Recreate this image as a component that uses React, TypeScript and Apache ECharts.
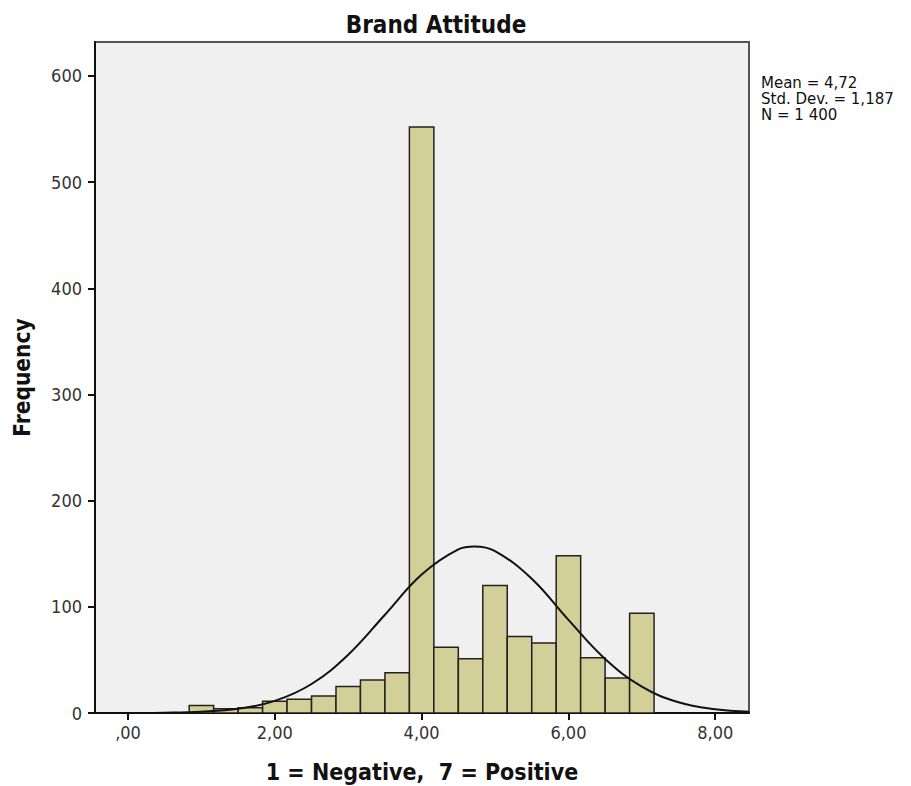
import React, { useEffect, useRef } from "react";
import * as echarts from "echarts";

const binCenters = [1.0, 1.333, 1.667, 2.0, 2.333, 2.667, 3.0, 3.333, 3.667, 4.0, 4.333, 4.667, 5.0, 5.333, 5.667, 6.0, 6.333, 6.667, 7.0];
const binCounts = [7, 4, 5, 11, 13, 16, 25, 31, 38, 552, 62, 51, 120, 72, 66, 148, 52, 33, 94];
const binWidth = 1 / 3;

const curveX = [-0.45, 0, 0.5, 1.0, 1.5, 2.0, 2.5, 3.0, 3.5, 4.0, 4.5, 4.72, 5.0, 5.5, 6.0, 6.5, 7.0, 7.5, 8.0, 8.46];
const curveY = [0.01, 0.06, 0.28, 1.2, 4.0, 11.4, 27.3, 54.9, 92.5, 130.4, 154.1, 156.8, 152.5, 126.4, 87.7, 50.9, 24.8, 10.1, 3.5, 1.1];

const xTicks = [0, 2, 4, 6, 8];
const yTicks = [0, 100, 200, 300, 400, 500, 600];
const statsLines = ["Mean = 4,72", "Std. Dev. = 1,187", "N = 1 400"];

const FONT = "'DejaVu Sans', 'Noto Sans', sans-serif";
const FONT_C = "'DejaVu Sans Condensed', 'DejaVu Sans', sans-serif";

export default function App() {
  const ref = useRef<HTMLDivElement>(null);
  useEffect(() => {
    if (!ref.current) return;
    const chart = echarts.init(ref.current, null, { renderer: "svg" });
    const histData = binCenters.map((c, i) => [c, binCounts[i]]);
    const curveData = curveX.map((x, i) => [x, curveY[i]]);
    chart.setOption({
      animation: false,
      backgroundColor: "#ffffff",
      title: {
        text: "Brand Attitude",
        left: 423,
        textAlign: "center",
        top: 0,
        textStyle: { fontFamily: FONT_C, fontWeight: "bold", fontSize: 24, color: "#111" },
      },
      grid: {
        left: 87,
        top: 34,
        right: 154,
        bottom: 73,
        outerBoundsMode: "none",
        containLabel: false,
        show: true,
        backgroundColor: "#f0f0f0",
        borderColor: "#555",
        borderWidth: 2,
      },
      xAxis: {
        type: "value",
        min: -0.45,
        max: 8.46,
        name: "1 = Negative,  7 = Positive",
        nameLocation: "middle",
        nameGap: 47,
        nameTextStyle: { fontFamily: FONT_C, fontWeight: "bold", fontSize: 23, color: "#111" },
        splitLine: { show: false },
        axisLine: { show: true, onZero: false, lineStyle: { color: "#111", width: 2 } },
        axisTick: { show: true, customValues: xTicks, length: 7, lineStyle: { color: "#111", width: 2 } },
        axisLabel: {
          customValues: xTicks,
          fontFamily: FONT_C,
          fontSize: 18,
          color: "#333",
          margin: 10,
          formatter: (v: number) => (v === 0 ? ",00" : v.toFixed(2).replace(".", ",")),
        },
      },
      yAxis: {
        type: "value",
        min: 0,
        max: 632,
        name: "Frequency",
        nameLocation: "middle",
        nameGap: 62,
        nameTextStyle: { fontFamily: FONT_C, fontWeight: "bold", fontSize: 22.5, color: "#111" },
        splitLine: { show: false },
        axisLine: { show: true, onZero: false, lineStyle: { color: "#111", width: 2 } },
        axisTick: { show: true, customValues: yTicks, length: 7, lineStyle: { color: "#111", width: 2 } },
        axisLabel: {
          customValues: yTicks,
          fontFamily: FONT_C,
          fontSize: 18,
          color: "#333",
          margin: 13,
        },
      },
      graphic: [
        {
          type: "text",
          left: 753,
          top: 67,
          style: {
            text: statsLines.join("\n"),
            fontFamily: FONT,
            fontSize: 15,
            lineHeight: 16,
            fill: "#111",
          },
        },
      ],
      series: [
        {
          type: "custom",
          data: histData,
          clip: true,
          encode: { x: 0, y: 1 },
          renderItem: (params: any, api: any) => {
            const c = api.value(0);
            const v = api.value(1);
            const p0 = api.coord([c - binWidth / 2, v]);
            const p1 = api.coord([c + binWidth / 2, 0]);
            return {
              type: "rect",
              shape: { x: p0[0], y: p0[1], width: p1[0] - p0[0], height: p1[1] - p0[1] },
              style: { fill: "#d3cf98", stroke: "#222", lineWidth: 1.5 },
            };
          },
          z: 2,
        },
        {
          type: "line",
          data: curveData,
          smooth: 0.4,
          showSymbol: false,
          symbol: "none",
          lineStyle: { color: "#111", width: 2 },
          clip: true,
          z: 3,
        },
      ],
    });
    return () => chart.dispose();
  }, []);
  return <div ref={ref} style={{ width: 895, height: 778 }} />;
}
